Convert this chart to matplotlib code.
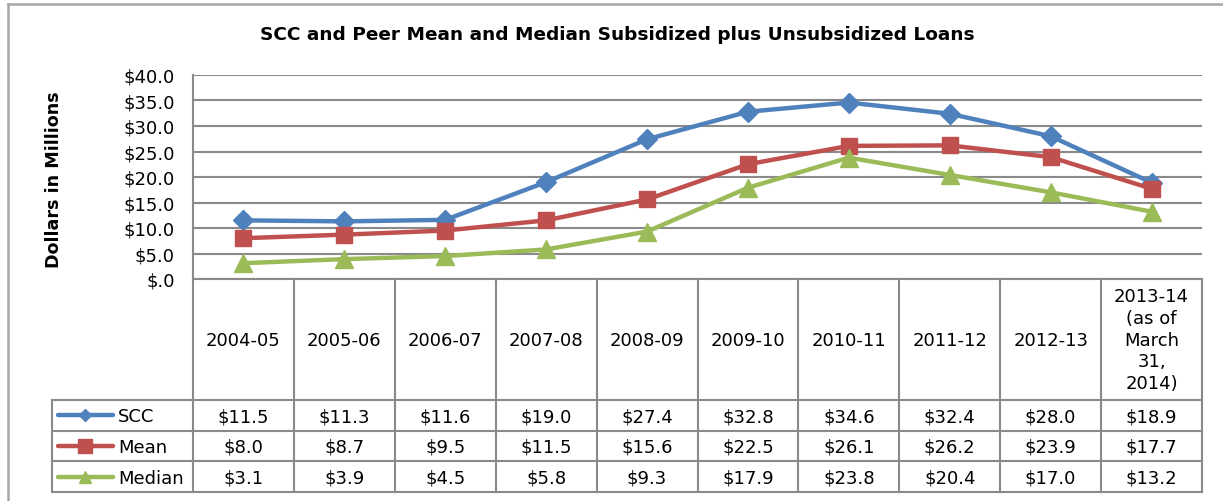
import matplotlib
matplotlib.use("Agg")
import matplotlib.pyplot as plt
from matplotlib.lines import Line2D

plt.rcParams['font.family'] = ['DejaVu Sans']

# ---- data -------------------------------------------------------------
years = ["2004-05", "2005-06", "2006-07", "2007-08", "2008-09",
         "2009-10", "2010-11", "2011-12", "2012-13",
         "2013-14\n(as of\nMarch\n31,\n2014)"]
series_names = ["SCC", "Mean", "Median"]
scc = [11.5, 11.3, 11.6, 19.0, 27.4, 32.8, 34.6, 32.4, 28.0, 18.9]
mean = [8.0, 8.7, 9.5, 11.5, 15.6, 22.5, 26.1, 26.2, 23.9, 17.7]
median = [3.1, 3.9, 4.5, 5.8, 9.3, 17.9, 23.8, 20.4, 17.0, 13.2]
y_ticks = [0, 5, 10, 15, 20, 25, 30, 35, 40]

series = [scc, mean, median]
colors = ["#4F81BD", "#C0504D", "#9BBB59"]
markers = ["D", "s", "^"]
msizes = [10, 12, 13]
key_msizes = [6, 10, 9]

W, H = 1223, 502
fig = plt.figure(figsize=(W / 100, H / 100), dpi=100)
fig.patch.set_facecolor("white")

def fx(px):
    return px / W

def fy(py):
    return 1 - py / H

grid_c = "#8a8a8a"
fs = 13

# ---- plot area --------------------------------------------------------
ax_l, ax_r, ax_t, ax_b = 193, 1202, 76, 280
ax = fig.add_axes([fx(ax_l), fy(ax_b), fx(ax_r - ax_l), (ax_b - ax_t) / H])
n = len(years)
x = list(range(n))
for vals, c, m, ms in zip(series, colors, markers, msizes):
    ax.plot(x, vals, color=c, lw=3.2, marker=m, markersize=ms,
            markerfacecolor=c, markeredgecolor=c, markeredgewidth=1,
            solid_joinstyle="round", clip_on=False, zorder=3)
ax.set_xlim(-0.5, n - 0.5)
ax.set_ylim(0, 40)
ax.set_yticks(y_ticks)
ax.set_yticklabels(["$.0" if v == 0 else f"${v:.1f}" for v in y_ticks],
                   fontsize=fs)
ax.tick_params(axis="y", length=0, pad=13)
ax.set_xticks([])
ax.yaxis.grid(True, color=grid_c, lw=1.5)
ax.set_axisbelow(True)
for side in ["top", "right"]:
    ax.spines[side].set_visible(False)
for side in ["left", "bottom"]:
    ax.spines[side].set_color(grid_c)
    ax.spines[side].set_linewidth(1.5)

# ---- data table -------------------------------------------------------
tab_l, tab_b = 52, 493
col_w = (ax_r - ax_l) / n
x_left = -0.5 - (ax_l - tab_l) / col_w
tab = fig.add_axes([fx(tab_l), fy(tab_b), fx(ax_r - tab_l), (tab_b - ax_b) / H])
tab.set_xlim(x_left, n - 0.5)
tab.set_ylim(tab_b - ax_b, 0)
tab.axis("off")

head_h = 121
row_h = (tab_b - ax_b - head_h) / 3
row_edges = [head_h + i * row_h for i in range(4)]

for i in range(n + 1):
    tab.plot([i - 0.5, i - 0.5], [0, tab_b - ax_b], color=grid_c, lw=1.5,
             clip_on=False)
tab.plot([x_left, x_left], [head_h, tab_b - ax_b], color=grid_c, lw=1.5,
         clip_on=False)
for yy in row_edges:
    tab.plot([x_left, n - 0.5], [yy, yy], color=grid_c, lw=1.5, clip_on=False)

for i, lab in enumerate(years):
    tab.text(i, head_h / 2, lab, ha="center", va="center", fontsize=fs,
             linespacing=1.27)

for r, (name, vals, c, m, kms) in enumerate(
        zip(series_names, series, colors, markers, key_msizes)):
    yc = head_h + (r + 0.5) * row_h
    for i, v in enumerate(vals):
        tab.text(i, yc + 1, f"${v:.1f}", ha="center", va="center", fontsize=fs)
    k0 = x_left + 6 / col_w
    k1 = x_left + 61 / col_w
    tab.plot([k0, k1], [yc, yc], color=c, lw=3.2, solid_capstyle="round",
             clip_on=False)
    tab.plot([(k0 + k1) / 2], [yc], marker=m, markersize=kms, color=c,
             markeredgecolor=c, clip_on=False)
    tab.text(x_left + 66 / col_w, yc + 1, name, ha="left", va="center",
             fontsize=fs)

# ---- titles and frame -------------------------------------------------
fig.text(fx(617), fy(35), "SCC and Peer Mean and Median Subsidized plus Unsubsidized Loans",
         ha="center", va="center", fontsize=13.3, fontweight="bold")
fig.text(fx(54), fy(180), "Dollars in Millions", rotation=90, ha="center",
         va="center", fontsize=12.6, fontweight="bold")

frame_c = "#a6a6a6"
fig.add_artist(Line2D([fx(8), 1], [fy(5), fy(5)], color=frame_c, lw=1.8))
fig.add_artist(Line2D([fx(8), fx(8)], [fy(5), 0], color=frame_c, lw=1.8))

fig.savefig("out.png", dpi=100, facecolor="white")
